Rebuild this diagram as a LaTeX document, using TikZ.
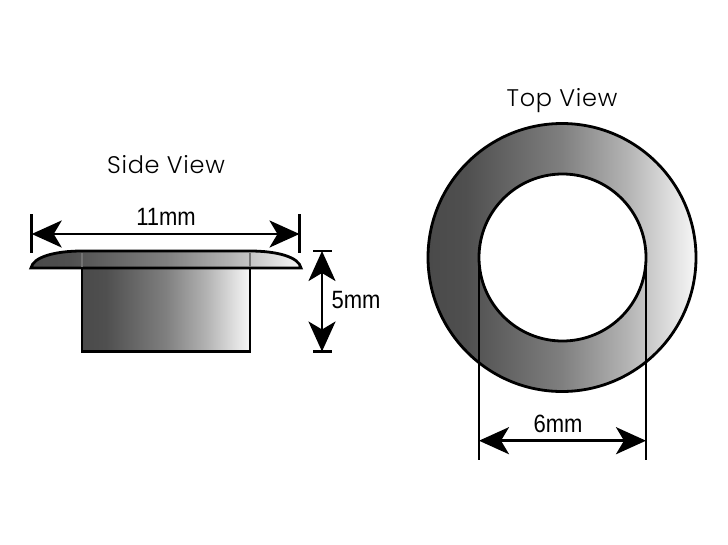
\documentclass[tikz,border=0pt]{standalone}
\usepackage{fontspec}
\newfontfamily\titlefont[LetterSpace=3]{Poppins Light}
\newfontfamily\dimfont[FakeStretch=0.88]{Liberation Sans}
\usetikzlibrary{arrows.meta, positioning}
\pgfdeclarehorizontalshading{metalshade}{100bp}{
    color(0bp)=(black!71);
    color(25bp)=(black!71);
    color(32bp)=(black!69);
    color(50bp)=(black!50);
    color(62bp)=(black!30);
    color(75bp)=(black!3);
    color(100bp)=(black!3)}
\tikzset{
    title/.style={font=\titlefont\fontsize{24}{25}\selectfont, inner sep=0pt, anchor=base},
    dimlabel/.style={font=\dimfont\fontsize{25}{26}\selectfont, inner sep=0pt},
    outline/.style={draw=black, line width=2.8pt, outer sep=0pt},
    metal/.style={outline, shading=metalshade},
    ring/.style={metal, circle, inner sep=0pt, minimum size=268pt},
    hole/.style={outline, fill=white, circle, inner sep=0pt, minimum size=167pt},
    tick/.style={draw=black, line width=2.8pt},
    dimline/.style={draw=black, line width=2.8pt, {Stealth[length=30pt,width=27pt,inset=8pt]}-{Stealth[length=30pt,width=27pt,inset=8pt]}}
}
\begin{document}
\begin{tikzpicture}[x=1pt, y=-1pt]
    \useasboundingbox (0,0) rectangle (728,544);

    % side view
    \node [metal, rectangle, minimum width=168pt, minimum height=100.5pt, inner sep=0pt, anchor=north west] (Body) at (82,251) {};
    \path [metal]
        (31,268) .. controls (33,257) and (55,251) .. (82,251) -- (250,251)
        .. controls (277,251) and (299,257) .. (301,268) -- cycle;
    \draw [black!55, line width=1.2pt] (82,253) -- (82,266.5) (250,253) -- (250,266.5);
    \node [title] (SideTitle) at (166,173) {Side View};

    \coordinate (LeftTop) at (31.7,214);
    \coordinate (LeftLow) at (31.7,253);
    \coordinate (RightTop) at (299.5,214);
    \coordinate (RightLow) at (299.5,253);
    \path [tick] (LeftTop) -- (LeftLow);
    \path [tick] (RightTop) -- (RightLow);
    \coordinate (WidthA) at (31.7,234);
    \coordinate (WidthB) at (299.5,234);
    \path [dimline] (WidthA) -- (WidthB);
    \node [dimlabel] (WidthText) at (166,217) {11mm};

    \coordinate (HighA) at (313,251);
    \coordinate (HighB) at (332,251);
    \coordinate (LowA) at (313,351.5);
    \coordinate (LowB) at (332,351.5);
    \path [tick] (HighA) -- (HighB);
    \path [tick] (LowA) -- (LowB);
    \coordinate (HeightA) at (322,251);
    \coordinate (HeightB) at (322,351.5);
    \path [dimline] (HeightA) -- (HeightB);
    \node [dimlabel] (HeightText) at (356,300) {5mm};

    % top view
    \node [ring] (Outer) at (562,257.5) {};
    \node [hole] (Inner) at (562.5,257.5) {};
    \node [title] (TopTitle) at (562,106.5) {Top View};

    \coordinate (HoleLeftEnd) at (Inner.west |- 0,460);
    \coordinate (HoleRightEnd) at (Inner.east |- 0,460);
    \path [tick] (Inner.west) -- (HoleLeftEnd);
    \path [tick] (Inner.east) -- (HoleRightEnd);
    \coordinate (HoleA) at (Inner.west |- 0,440.7);
    \coordinate (HoleB) at (Inner.east |- 0,440.7);
    \path [dimline] (HoleA) -- (HoleB);
    \node [dimlabel] (HoleText) at (558,424) {6mm};
\end{tikzpicture}
\end{document}
